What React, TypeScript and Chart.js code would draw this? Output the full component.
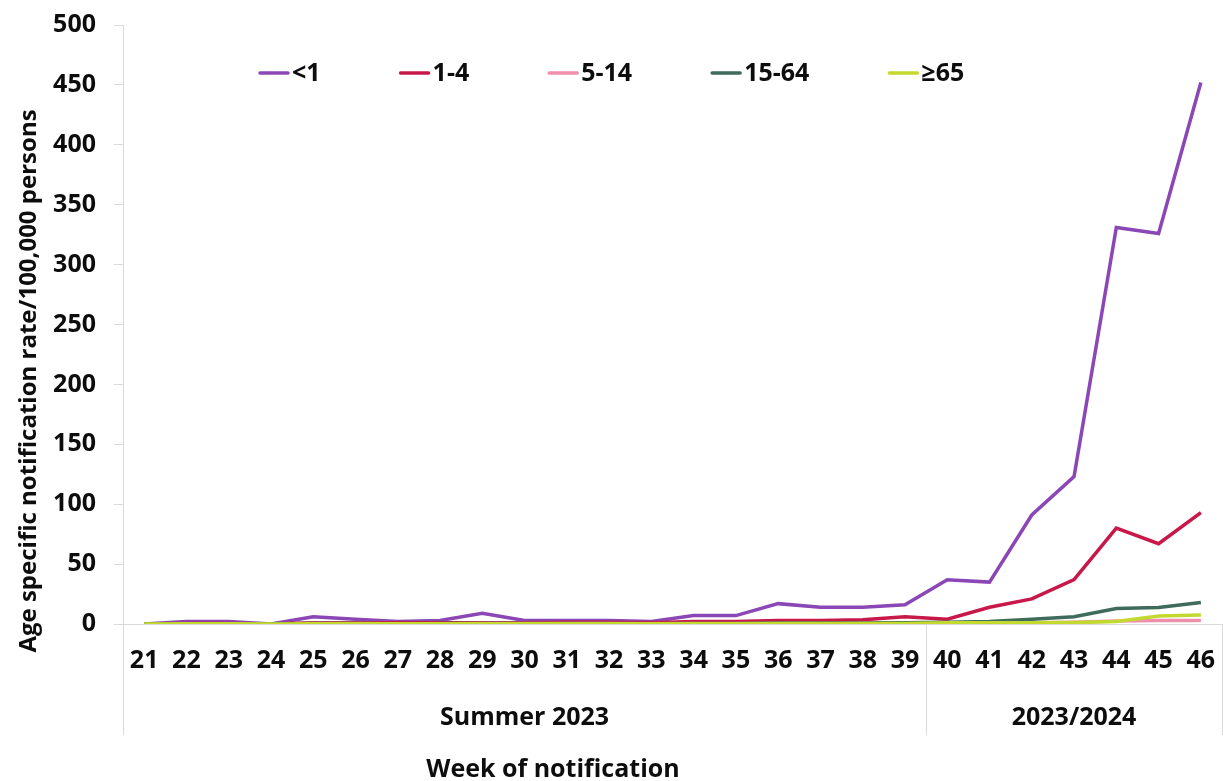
import React, { useEffect, useRef } from "react";
import { Chart, registerables } from "chart.js";

Chart.register(...registerables);

const weeks = ["21","22","23","24","25","26","27","28","29","30","31","32","33","34","35","36","37","38","39","40","41","42","43","44","45","46"];
const groupLabels = ["Summer 2023", "2023/2024"];
const groupSizes = [19, 7];
const seriesNames = ["<1", "1-4", "5-14", "15-64", "≥65"];
const seriesColors = ["#8B47B5", "#C8184A", "#F08FAB", "#3F6B5C", "#C3D92F"];

const under1 = [0, 2, 2, 0, 6, 4, 2, 3, 9, 3, 3, 3, 2, 7, 7, 17, 14, 14, 16, 37, 35, 91, 123, 331, 326, 452];
const age1to4 = [0, 0.5, 0.5, 0, 1, 1, 1, 1, 1, 1, 1.5, 1.5, 1, 2, 2, 3, 3, 3.5, 6, 4, 14, 21, 37, 80, 67, 93];
const age5to14 = [0, 0.3, 0.3, 0, 0.5, 0.5, 0.3, 0.3, 0.5, 0.5, 0.5, 0.5, 0.3, 0.5, 0.5, 0.5, 0.5, 0.5, 0.8, 1, 1, 1, 1.5, 2.5, 3, 3];
const age15to64 = [0, 0.3, 0.3, 0, 0.5, 0.5, 0.3, 0.5, 0.5, 0.5, 0.5, 0.5, 0.3, 0.5, 0.5, 0.8, 0.8, 0.8, 1, 1.5, 2, 4, 6, 13, 13.7, 18];
const age65plus = [0, 0.2, 0.2, 0, 0.3, 0.3, 0.2, 0.3, 0.3, 0.3, 0.3, 0.3, 0.2, 0.3, 0.3, 0.5, 0.5, 0.5, 0.5, 1, 1, 1, 1.2, 2, 6.7, 7.5];

const yTicks = [0, 50, 100, 150, 200, 250, 300, 350, 400, 450, 500];
const yTitle = "Age specific notification rate/100,000 persons";
const xTitle = "Week of notification";

const FONT = "'Open Sans', 'Liberation Sans', sans-serif";
const TEXT = "#0d0d0d";
const AXIS = "#d9d9d9";

const overlayPlugin = {
  id: "overlay",
  afterDraw(chart: any) {
    const { ctx, chartArea, scales } = chart;
    const x = scales.x;
    ctx.save();
    // group separators
    const bounds: number[] = [chartArea.left];
    let idx = 0;
    groupSizes.forEach((n, i) => {
      idx += n;
      if (i < groupSizes.length - 1) {
        bounds.push((x.getPixelForValue(idx - 1) + x.getPixelForValue(idx)) / 2);
      }
    });
    bounds.push(chartArea.right);
    ctx.strokeStyle = AXIS;
    ctx.lineWidth = 1;
    bounds.forEach((bx) => {
      const px = Math.round(bx) + 0.5;
      ctx.beginPath();
      ctx.moveTo(px, chartArea.bottom);
      ctx.lineTo(px, chartArea.bottom + 111);
      ctx.stroke();
    });
    ctx.fillStyle = TEXT;
    ctx.font = `bold 25px ${FONT}`;
    ctx.textAlign = "center";
    ctx.textBaseline = "middle";
    groupLabels.forEach((g, i) => {
      ctx.fillText(g, (bounds[i] + bounds[i + 1]) / 2, chartArea.bottom + 94);
    });
    // x axis title
    ctx.fillText(xTitle, chartArea.left + 430, chartArea.bottom + 146);

    // y axis title
    ctx.save();
    ctx.translate(29, chartArea.top + 356);
    ctx.rotate(-Math.PI / 2);
    ctx.font = `bold 24px ${FONT}`;
    ctx.fillText(yTitle, 0, 0);
    ctx.restore();

    // legend
    ctx.font = `bold 25px ${FONT}`;
    let lx = chartArea.left + 136;
    const ly = 73;
    seriesNames.forEach((name, i) => {
      ctx.strokeStyle = seriesColors[i];
      ctx.lineWidth = 3.5;
      ctx.lineCap = "round";
      ctx.beginPath();
      ctx.moveTo(lx + 1, ly);
      ctx.lineTo(lx + 29, ly);
      ctx.stroke();
      ctx.textAlign = "left";
      ctx.fillStyle = TEXT;
      const tx = lx + 33;
      ctx.fillText(name, tx, ly + 1);
      const w = ctx.measureText(name).width;
      lx = tx + w + 79;
    });
    ctx.restore();
  },
};

export default function App() {
  const ref = useRef<HTMLCanvasElement | null>(null);
  useEffect(() => {
    document.body.style.margin = "0";
    const canvas = ref.current!;
    const data = [under1, age1to4, age5to14, age15to64, age65plus];
    const chart = new Chart(canvas, {
      type: "line",
      data: {
        labels: weeks,
        datasets: seriesNames.map((name, i) => ({
          label: name,
          data: data[i],
          borderColor: seriesColors[i],
          backgroundColor: seriesColors[i],
          borderWidth: 3.5,
          pointRadius: 0,
          tension: 0,
          order: seriesNames.length - 1 - i,
        })),
      },
      options: {
        responsive: false,
        animation: false,
        layout: { padding: { top: 25, right: 1, left: 0, bottom: 0 } },
        plugins: {
          legend: { display: false },
          tooltip: { enabled: false },
        },
        scales: {
          x: {
            type: "category",
            offset: true,
            grid: {
              display: true,
              drawOnChartArea: false,
              drawTicks: true,
              tickLength: 18,
              tickColor: "rgba(0,0,0,0)",
            },
            border: { display: true, color: AXIS, width: 1 },
            ticks: {
              color: TEXT,
              font: { family: FONT, size: 25, weight: "bold" },
              maxRotation: 0,
              autoSkip: false,
              padding: 4,
            },
            afterFit(scale: any) {
              scale.height = 157;
            },
          },
          y: {
            min: 0,
            max: 500,
            afterBuildTicks(scale: any) {
              scale.ticks = yTicks.map((v) => ({ value: v }));
            },
            grid: { display: true, drawOnChartArea: false, tickLength: 9, color: AXIS },
            border: { display: true, color: AXIS, width: 1 },
            ticks: {
              color: TEXT,
              font: { family: FONT, size: 25, weight: "bold" },
              padding: 18,
            },
            afterFit(scale: any) {
              scale.width = 123;
              scale.paddingTop = 0;
              scale.paddingBottom = 0;
            },
          },
        },
      },
      plugins: [overlayPlugin],
    });
    return () => chart.destroy();
  }, []);
  return (
    <div style={{ width: 1223, height: 781, position: "relative", background: "#fff" }}>
      <canvas ref={ref} width={1223} height={781} style={{ display: "block" }} />
    </div>
  );
}
